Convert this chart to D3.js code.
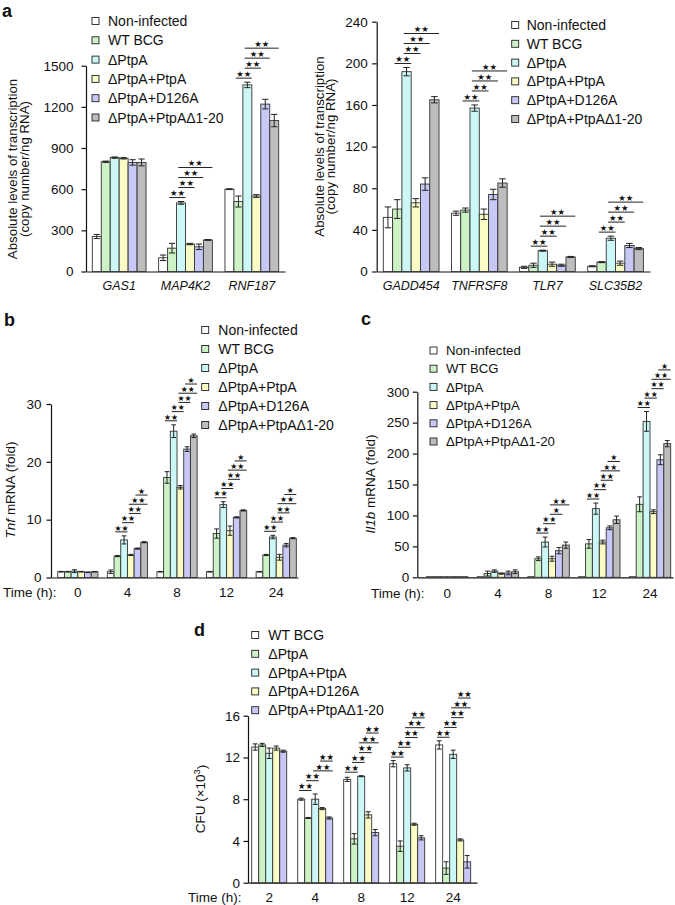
<!DOCTYPE html>
<html>
<head>
<meta charset="utf-8">
<script src="https://cdn.jsdelivr.net/npm/d3@7"></script>
<style>
  body { margin: 0; background: #fff; }
  svg { font-family: "Liberation Sans", Arial, Helvetica, sans-serif; }
</style>
</head>
<body>
<div id="chart"></div>
<script>
// series names and colours
var seriesSix = ["Non-infected", "WT BCG", "ΔPtpA", "ΔPtpA+PtpA", "ΔPtpA+D126A", "ΔPtpA+PtpAΔ1-20"];
var seriesFive = ["WT BCG", "ΔPtpA", "ΔPtpA+PtpA", "ΔPtpA+D126A", "ΔPtpA+PtpAΔ1-20"];
var colorsSix = ["#ffffff", "#ccf2c6", "#cbf7f7", "#fbfbc5", "#c8c8f6", "#bdbdbd"];
var colorsFive = ["#ffffff", "#ccf2c6", "#cbf7f7", "#fbfbc5", "#c8c8f6"];

// panel a (left)
var genesA1 = ["GAS1", "MAP4K2", "RNF187"];
var meansA1 = [[255, 800, 830, 825, 795, 795],
               [100, 170, 500, 200, 180, 230],
               [600, 510, 1360, 550, 1220, 1100]];
var errA1 = [[15, 5, 5, 5, 20, 25],
             [20, 35, 10, 5, 20, 3],
             [3, 40, 20, 10, 35, 45]];
var ticksA1 = [0, 300, 600, 900, 1200, 1500];
var sigA1 = [[],
             [[1, 2, "**"], [2, 3, "**"], [2, 4, "**"], [2, 5, "**"]],
             [[1, 2, "**"], [2, 3, "**"], [2, 4, "**"], [2, 5, "**"]]];

// panel a (right)
var genesA2 = ["GADD454", "TNFRSF8", "TLR7", "SLC35B2"];
var meansA2 = [[52, 60, 192, 66, 84, 165],
               [56, 59, 157, 55, 74, 85],
               [4, 6, 20, 7, 6, 14],
               [5, 9, 32, 8, 25, 22]];
var errA2 = [[10, 9, 4, 4, 6, 3],
             [2, 2, 3, 5, 5, 4],
             [1, 2, 0.5, 2, 1, 0.5],
             [0.5, 0.5, 2, 2, 2, 1]];
var ticksA2 = [0, 40, 80, 120, 160, 200, 240];
var sigA2 = [[[1, 2, "**"], [2, 3, "**"], [2, 4, "**"], [2, 5, "**"]],
             [[1, 2, "**"], [2, 3, "**"], [2, 4, "**"], [2, 5, "**"]],
             [[1, 2, "**"], [2, 3, "**"], [2, 4, "**"], [2, 5, "**"]],
             [[1, 2, "**"], [2, 3, "**"], [2, 4, "**"], [2, 5, "**"]]];

// panel b: Tnf
var timesB = ["0", "4", "8", "12", "24"];
var meansB = [[1, 1, 1.1, 1, 0.9, 1],
              [1, 3.7, 6.5, 3.9, 5.0, 6.1],
              [1, 17.3, 25.3, 15.6, 22.2, 24.5],
              [1, 7.6, 12.6, 8.1, 10.4, 11.6],
              [1, 3.9, 7.0, 3.5, 5.6, 6.8]];
var errB = [[0.05, 0.05, 0.25, 0.05, 0.05, 0.05],
            [0.3, 0.1, 0.7, 0.1, 0.1, 0.1],
            [0.05, 1.0, 1.1, 0.3, 0.4, 0.3],
            [0.05, 0.8, 0.5, 0.8, 0.1, 0.1],
            [0.05, 0.1, 0.3, 0.5, 0.3, 0.1]];
var ticksB = [0, 10, 20, 30];
var sigB5 = [[1, 2, "**"], [2, 3, "**"], [3, 4, "**"], [3, 5, "**"], [4, 5, "*"]];
var sigB = [[], sigB5, sigB5, sigB5, sigB5];

// panel c: Il1b
var timesC = ["0", "4", "8", "12", "24"];
var meansC = [[1, 1, 1, 1, 1, 1],
              [1, 6, 10, 6, 7, 9],
              [1, 30, 57, 30, 43, 52],
              [1, 54, 111, 57, 80, 93],
              [1, 118, 252, 106, 190, 216]];
var errC = [[0, 0, 0, 0, 0, 0],
            [0, 4, 2, 1, 3, 3],
            [0, 3, 8, 4, 5, 5],
            [0, 7, 9, 3, 3, 6],
            [0, 12, 16, 3, 8, 5]];
var ticksC = [0, 50, 100, 150, 200, 250, 300];
var sigC5 = [[1, 2, "**"], [2, 3, "**"], [3, 4, "**"], [3, 5, "**"], [4, 5, "*"]];
var sigC = [[], [],
            [[1, 2, "**"], [2, 3, "**"], [3, 4, "*"], [3, 5, "**"]],
            sigC5, sigC5];

// panel d: CFU
var timesD = ["2", "4", "8", "12", "24"];
var meansD = [[13.0, 13.2, 12.4, 12.9, 12.6],
              [8.0, 6.2, 8.0, 7.1, 6.2],
              [9.9, 4.2, 10.2, 6.5, 4.8],
              [11.4, 3.5, 11.0, 5.6, 4.3],
              [13.2, 1.4, 12.3, 4.1, 2.0]];
var errD = [[0.3, 0.15, 0.5, 0.2, 0.1],
            [0.1, 0.05, 0.5, 0.1, 0.1],
            [0.2, 0.5, 0.05, 0.3, 0.3],
            [0.3, 0.5, 0.3, 0.1, 0.2],
            [0.4, 0.6, 0.4, 0.1, 0.6]];
var ticksD = [0, 4, 8, 12, 16];
var sigD5 = [[0, 1, "**"], [1, 2, "**"], [2, 3, "**"], [2, 4, "**"], [3, 4, "**"]];
var sigD = [[], [[0, 1, "**"], [1, 2, "**"], [2, 4, "**"], [3, 4, "**"]], sigD5, sigD5, sigD5];

var svg = d3.select("#chart")
  .append("svg")
    .attr("width", 675)
    .attr("height", 905);

function drawPanel(o) {
  var g = svg.append("g");

  var x0 = d3.scaleBand()
    .domain(o.cats)
    .range(o.xr)
    .paddingInner(o.pi)
    .paddingOuter(o.po)
    .align(o.al);
  var x1 = d3.scaleBand()
    .domain(d3.range(o.series.length))
    .range([0, x0.bandwidth()]);
  var bw = x1.bandwidth();
  var y = d3.scaleLinear()
    .domain([0, o.ticks[o.ticks.length - 1]])
    .range(o.yr);

  // y axis
  var ya = g.append("g")
    .attr("transform", "translate(" + o.xr[0] + ",0)")
    .call(d3.axisLeft(y).tickValues(o.ticks).tickFormat(d3.format("d"))
      .tickSize(4.5).tickSizeOuter(0).tickPadding(o.tickPad));
  ya.selectAll("text").style("font-size", "13.5px").attr("fill", "#111");

  // x axis
  var xa = g.append("g")
    .attr("transform", "translate(0," + o.yr[0] + ")")
    .call(d3.axisBottom(x0).tickSize(0).tickSizeOuter(0).tickPadding(o.xPad));
  xa.selectAll("text")
    .style("font-size", o.italicCats ? "12.5px" : "13.5px")
    .style("font-style", o.italicCats ? "italic" : "normal")
    .attr("fill", "#111");
  g.selectAll(".domain, .tick line").attr("stroke", "#111").attr("stroke-width", 1.2);

  // bars
  var grp = g.selectAll(".grp")
    .data(o.means)
    .enter()
    .append("g")
      .attr("transform", function (d, i) { return "translate(" + x0(o.cats[i]) + ",0)"; });

  grp.selectAll("rect")
    .data(function (d) { return d; })
    .enter()
    .append("rect")
      .attr("x", function (d, j) { return x1(j); })
      .attr("y", function (d) { return y(d); })
      .attr("width", bw)
      .attr("height", function (d) { return y(0) - y(d); })
      .attr("fill", function (d, j) { return o.colors[j]; })
      .attr("stroke", "#333")
      .attr("stroke-width", 0.9);

  // error bars + significance brackets
  grp.each(function (d, i) {
    var eg = d3.select(this);
    d.forEach(function (v, j) {
      var e = o.errs[i][j];
      if (e <= 0) return;
      var cx = x1(j) + bw / 2, cw = bw * 0.35;
      var lo = y(Math.max(0, v - e)), hi = y(v + e);
      eg.append("line").attr("x1", cx).attr("x2", cx).attr("y1", lo).attr("y2", hi);
      eg.append("line").attr("x1", cx - cw).attr("x2", cx + cw).attr("y1", hi).attr("y2", hi);
      eg.append("line").attr("x1", cx - cw).attr("x2", cx + cw).attr("y1", lo).attr("y2", lo);
    });
    eg.selectAll("line").attr("stroke", "#222").attr("stroke-width", 1);

    var top = d3.min(d, function (v, j) { return y(v + o.errs[i][j]); });
    o.sig[i].forEach(function (s, k) {
      var ly = top - o.gap - k * o.step;
      var xa1 = x1(s[0]) + bw * 0.2, xa2 = x1(s[1]) + bw;
      eg.append("line")
        .attr("x1", xa1).attr("x2", xa2)
        .attr("y1", ly).attr("y2", ly)
        .attr("stroke", "#222").attr("stroke-width", 1);
      eg.append("text")
        .attr("x", (xa1 + xa2) / 2)
        .attr("y", ly - 1.3)
        .attr("text-anchor", "middle")
        .style("font-family", "'DejaVu Sans', sans-serif")
        .style("font-size", o.starFont + "px")
        .attr("fill", "#111")
        .text(s[2].replace(/\*/g, "★"));
    });
  });

  // legend
  var lg = g.selectAll(".leg")
    .data(o.series)
    .enter()
    .append("g")
      .attr("transform", function (d, j) { return "translate(" + o.leg[0] + "," + (o.leg[1] + j * o.leg[2]) + ")"; });
  lg.append("rect")
    .attr("x", 0).attr("y", -3.5)
    .attr("width", 7).attr("height", 7)
    .attr("fill", function (d, j) { return o.colors[j]; })
    .attr("stroke", "#222").attr("stroke-width", 0.9);
  lg.append("text")
    .attr("x", o.leg[3])
    .attr("dy", "0.36em")
    .style("font-size", o.legFont + "px")
    .attr("fill", "#111")
    .text(function (d) { return d; });

  return g;
}

function yTitle(x, y, lines, size) {
  lines.forEach(function (parts, i) {
    var t = svg.append("text")
      .attr("transform", "translate(" + x[i] + "," + y + ") rotate(-90)")
      .attr("text-anchor", "middle")
      .style("font-size", size + "px")
      .attr("fill", "#111");
    parts.forEach(function (p) {
      var ts = t.append("tspan").text(p.t);
      if (p.i) ts.style("font-style", "italic");
      if (p.sup) ts.attr("dy", "-0.45em").style("font-size", (size * 0.7) + "px");
      if (p.after) ts.attr("dy", "0.45em");
    });
  });
}

function label(x, y, s, opts) {
  svg.append("text")
    .attr("x", x).attr("y", y)
    .style("font-size", opts.size + "px")
    .style("font-weight", opts.bold ? "bold" : "normal")
    .attr("fill", "#111")
    .text(s);
}

// ---- panel a left ----
drawPanel({
  cats: genesA1, series: seriesSix, colors: colorsSix,
  means: meansA1, errs: errA1, sig: sigA1, ticks: ticksA1,
  xr: [86, 285], pi: 0.19, po: 0.095, al: 0.5, yr: [271.5, 65.7],
  tickPad: 8, xPad: 9.5, italicCats: true, gap: 4, step: 10, starFont: 8.4,
  leg: [92, 21, 19.3, 16], legFont: 14
});
// ---- panel a right ----
drawPanel({
  cats: genesA2, series: seriesSix, colors: colorsSix,
  means: meansA2, errs: errA2, sig: sigA2, ticks: ticksA2,
  xr: [376.7, 650], pi: 0.182, po: 0.097, al: 0.5, yr: [271.5, 21.7],
  tickPad: 4.5, xPad: 9.5, italicCats: true, gap: 4, step: 10, starFont: 8.4,
  leg: [511.7, 25, 18.8, 15], legFont: 14
});
// ---- panel b ----
drawPanel({
  cats: timesB, series: seriesSix, colors: colorsSix,
  means: meansB, errs: errB, sig: sigB, ticks: ticksB,
  xr: [51, 298], pi: 0.19, po: 0.085, al: 0.8, yr: [577.5, 404],
  tickPad: 5, xPad: 10, italicCats: false, gap: 4, step: 9.2, starFont: 7.8,
  leg: [201.7, 330, 19, 16.6], legFont: 14
});
// ---- panel c ----
drawPanel({
  cats: timesC, series: seriesSix, colors: colorsSix,
  means: meansC, errs: errC, sig: sigC, ticks: ticksC,
  xr: [417.3, 673], pi: 0.183, po: 0.113, al: 0.8, yr: [577.3, 391.7],
  tickPad: 3.5, xPad: 11, italicCats: false, gap: 4, step: 9.4, starFont: 7.9,
  leg: [430, 350.5, 18.2, 16], legFont: 13.2
});
// ---- panel d ----
drawPanel({
  cats: timesD, series: seriesFive, colors: colorsFive,
  means: meansD, errs: errD, sig: sigD, ticks: ticksD,
  xr: [248, 477], pi: 0.239, po: 0.109, al: 0.37, yr: [882.7, 715.7],
  tickPad: 3.5, xPad: 10, italicCats: false, gap: 3.5, step: 9.8, starFont: 8.2,
  leg: [251.7, 635, 18.8, 16.6], legFont: 14
});

// axis titles
yTitle([17, 29], 169, [[{t: "Absolute levels of transcription"}], [{t: "(copy number/ng RNA)"}]], 13.3);
yTitle([323.5, 335], 146.5, [[{t: "Absolute levels of transcription"}], [{t: "(copy number/ng RNA)"}]], 13.3);
yTitle([14.5], 490, [[{t: "Tnf", i: true}, {t: " mRNA (fold)"}]], 13.5);
yTitle([374.5], 484, [[{t: "Il1b", i: true}, {t: " mRNA (fold)"}]], 13.5);
yTitle([204.5], 799, [[{t: "CFU (×10"}, {t: "3", sup: true}, {t: ")", after: true}]], 13.5);

// time labels
label(3, 597, "Time (h):", {size: 13.5});
label(371, 598, "Time (h):", {size: 13.5});
label(188, 902, "Time (h):", {size: 13.5});

// panel letters
label(2, 17, "a", {size: 18, bold: true});
label(4, 326, "b", {size: 18, bold: true});
label(361, 324.5, "c", {size: 18, bold: true});
label(194, 636, "d", {size: 18, bold: true});
</script>
</body>
</html>
